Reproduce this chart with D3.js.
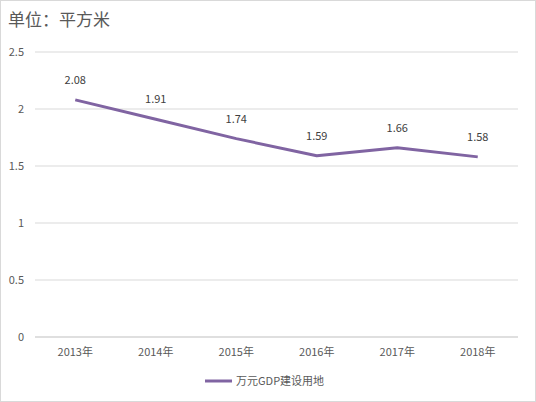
<!DOCTYPE html><html><head><meta charset="utf-8"><script src="https://cdn.jsdelivr.net/npm/d3@7"></script>
<style>body{margin:0;background:#fff}</style></head><body><svg id="c" width="536" height="402"></svg>
<script>
const categories=["2013年","2014年","2015年","2016年","2017年","2018年"];
const values=[2.08,1.91,1.74,1.59,1.66,1.58];
const yTicks=[0,0.5,1,1.5,2,2.5];
const seriesName="万元GDP建设用地";
const svg=d3.select("#c");
const font="'Noto Sans CJK SC', 'Microsoft YaHei', sans-serif";
svg.append("rect").attr("x",0.5).attr("y",0.5).attr("width",535).attr("height",401).attr("fill","#fff").attr("stroke","#d9d9d9");
const x=d3.scaleBand().domain(categories).range([35,518]);
const y=d3.scaleLinear().domain([0,2.5]).range([337,52]);
svg.append("text").attr("x",8).attr("y",26).attr("font-family",font).attr("font-size",17).attr("fill","#595959").text("单位：平方米");
yTicks.forEach(t=>{
svg.append("line").attr("x1",35).attr("x2",518).attr("y1",y(t)).attr("y2",y(t)).attr("stroke",t===0?"#bfbfbf":"#d9d9d9");
svg.append("text").attr("x",24).attr("y",y(t)+4).attr("text-anchor","end").attr("font-family",font).attr("font-size",11).attr("fill","#595959").text(t);
});
categories.forEach(c=>svg.append("text").attr("x",x(c)+x.bandwidth()/2).attr("y",356).attr("text-anchor","middle").attr("font-family",font).attr("font-size",11).attr("fill","#595959").text(c));
const cx=(d,i)=>x(categories[i])+x.bandwidth()/2;
svg.append("path").datum(values).attr("fill","none").attr("stroke","#8064a2").attr("stroke-width",3).attr("stroke-linejoin","round")
.attr("d",d3.line().x(cx).y(d=>y(d)));
values.forEach((v,i)=>svg.append("text").attr("x",cx(v,i)).attr("y",y(v)-16).attr("text-anchor","middle").attr("font-family",font).attr("font-size",11).attr("fill","#404040").text(v.toFixed(2)));
svg.append("line").attr("x1",205).attr("x2",232).attr("y1",381).attr("y2",381).attr("stroke","#8064a2").attr("stroke-width",3);
svg.append("text").attr("x",236).attr("y",385).attr("font-family",font).attr("font-size",11).attr("fill","#595959").text(seriesName);
</script></body></html>
